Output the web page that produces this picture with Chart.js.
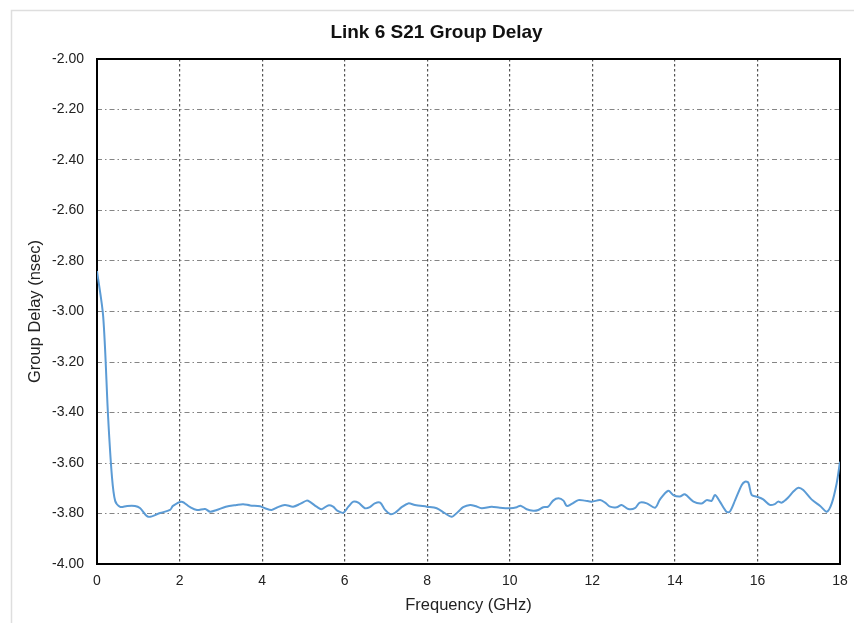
<!DOCTYPE html>
<html>
<head>
<meta charset="utf-8">
<title>Link 6 S21 Group Delay</title>
<script src="https://cdn.jsdelivr.net/npm/chart.js@4.4.1/dist/chart.umd.min.js"></script>
<style>
  html, body { margin: 0; padding: 0; background: #ffffff; }
  #wrap { width: 854px; height: 623px; }
</style>
</head>
<body>
<div id="wrap"><canvas id="chart" width="854" height="623"></canvas></div>
<script>
// Measured S21 group delay of link 6 (frequency in GHz, delay in ns)
const frequencyGHz = [
  0.00, 0.15, 0.27, 0.36, 0.44, 0.56, 0.73, 0.92, 1.04, 1.24,
  1.53, 1.77, 1.84, 2.05, 2.25, 2.42, 2.62, 2.74, 2.90, 3.12,
  3.38, 3.54, 3.71, 3.95, 4.07, 4.23, 4.35, 4.55, 4.75, 4.92,
  5.08, 5.16, 5.32, 5.44, 5.60, 5.72, 5.83, 5.97, 6.09, 6.21,
  6.33, 6.49, 6.61, 6.73, 6.86, 6.98, 7.10, 7.22, 7.38, 7.54,
  7.70, 7.99, 8.23, 8.43, 8.59, 8.75, 8.87, 9.04, 9.16, 9.32,
  9.56, 9.76, 10.01, 10.17, 10.26, 10.41, 10.57, 10.69, 10.81, 10.93,
  11.05, 11.18, 11.30, 11.38, 11.50, 11.66, 11.82, 11.98, 12.19, 12.31,
  12.43, 12.59, 12.71, 12.87, 13.03, 13.15, 13.32, 13.52, 13.64, 13.84,
  13.96, 14.12, 14.24, 14.45, 14.65, 14.77, 14.89, 14.97, 15.09, 15.25,
  15.33, 15.46, 15.62, 15.70, 15.78, 15.86, 15.98, 16.14, 16.30, 16.42,
  16.50, 16.59, 16.75, 16.87, 16.99, 17.11, 17.31, 17.52, 17.68, 17.80,
  17.92, 18.00
];

const groupDelayNs = [
  -2.840, -3.020, -3.420, -3.650, -3.750, -3.774, -3.770, -3.770, -3.778, -3.813,
  -3.798, -3.786, -3.770, -3.753, -3.774, -3.786, -3.782, -3.793, -3.786, -3.773,
  -3.766, -3.763, -3.768, -3.771, -3.779, -3.786, -3.777, -3.766, -3.773, -3.762,
  -3.749, -3.754, -3.773, -3.783, -3.768, -3.773, -3.790, -3.797, -3.773, -3.753,
  -3.757, -3.779, -3.775, -3.760, -3.757, -3.786, -3.802, -3.797, -3.775, -3.760,
  -3.766, -3.773, -3.779, -3.799, -3.813, -3.793, -3.775, -3.766, -3.770, -3.779,
  -3.773, -3.777, -3.779, -3.775, -3.769, -3.783, -3.789, -3.786, -3.775, -3.773,
  -3.749, -3.740, -3.749, -3.770, -3.762, -3.747, -3.749, -3.753, -3.747, -3.757,
  -3.773, -3.775, -3.766, -3.782, -3.779, -3.757, -3.760, -3.777, -3.744, -3.710,
  -3.727, -3.733, -3.724, -3.753, -3.760, -3.747, -3.750, -3.727, -3.753, -3.793,
  -3.793, -3.747, -3.687, -3.674, -3.678, -3.727, -3.733, -3.744, -3.766, -3.763,
  -3.753, -3.757, -3.736, -3.713, -3.698, -3.707, -3.744, -3.770, -3.793, -3.760,
  -3.680, -3.595
];

// Axis ranges and tick spacing
const frequencyRange = [0, 18];
const frequencyStep = 2;
const delayRange = [-4.0, -2.0];
const delayStep = 0.2;

const chartTitle = 'Link 6 S21 Group Delay';
const xAxisTitle = 'Frequency (GHz)';
const yAxisTitle = 'Group Delay (nsec)';

const FONT = '"Liberation Sans", Arial, Helvetica, sans-serif';

const points = frequencyGHz.map((f, i) => ({ x: f, y: groupDelayNs[i] }));

// Light outer chart frame plus solid plot-area border
const framePlugin = {
  id: 'frames',
  beforeDraw(chart) {
    const { ctx, width, height } = chart;
    ctx.save();
    ctx.fillStyle = '#ffffff';
    ctx.fillRect(0, 0, width, height);
    ctx.strokeStyle = '#dedede';
    ctx.lineWidth = 1.5;
    ctx.beginPath();
    ctx.moveTo(11.5, height);
    ctx.lineTo(11.5, 10.5);
    ctx.lineTo(width, 10.5);
    ctx.stroke();
    ctx.restore();
  },
  beforeDatasetsDraw(chart) {
    const { ctx, chartArea: a } = chart;
    ctx.save();
    ctx.strokeStyle = '#000000';
    ctx.lineWidth = 2;
    ctx.strokeRect(a.left, a.top, a.right - a.left, a.bottom - a.top);
    ctx.restore();
  }
};

new Chart(document.getElementById('chart'), {
  type: 'scatter',
  data: {
    datasets: [{
      label: 'S21 Group Delay',
      data: points,
      showLine: true,
      borderColor: '#5b9bd5',
      backgroundColor: '#5b9bd5',
      borderWidth: 2,
      pointRadius: 0,
      pointHoverRadius: 0,
      tension: 0.3
    }]
  },
  options: {
    responsive: false,
    animation: false,
    events: [],
    layout: { padding: { left: 33, right: 14, top: 0, bottom: 0 } },
    plugins: {
      legend: { display: false },
      tooltip: { enabled: false },
      title: {
        display: true,
        text: chartTitle,
        color: '#111111',
        font: { family: FONT, size: 19, weight: 'bold' },
        padding: { top: 21, bottom: 15.2 }
      }
    },
    scales: {
      x: {
        type: 'linear',
        min: frequencyRange[0],
        max: frequencyRange[1],
        afterFit(scale) {
          scale.height = 59;
          scale.paddingLeft = 0;
          scale.paddingRight = 0;
        },
        ticks: {
          stepSize: frequencyStep,
          color: '#222222',
          font: { family: FONT, size: 14 },
          padding: 9,
          maxRotation: 0
        },
        grid: {
          color: '#555555',
          lineWidth: 1.2,
          drawTicks: false
        },
        border: { display: false, dash: [2.5, 2.5] },
        title: {
          display: true,
          text: xAxisTitle,
          color: '#222222',
          font: { family: FONT, size: 16.5 },
          padding: { top: 0, bottom: 7.8 }
        }
      },
      y: {
        type: 'linear',
        min: delayRange[0],
        max: delayRange[1],
        afterFit(scale) { scale.width = 64; },
        ticks: {
          stepSize: delayStep,
          color: '#222222',
          font: { family: FONT, size: 14 },
          padding: 13,
          callback: (v) => Number(v).toFixed(2)
        },
        grid: {
          color: '#858585',
          lineWidth: 1,
          drawTicks: false
        },
        border: { display: false, dash: [5, 3, 1.5, 3] },
        title: {
          display: true,
          text: yAxisTitle,
          color: '#222222',
          font: { family: FONT, size: 16.5 },
          padding: { top: -7, bottom: 0 }
        }
      }
    }
  },
  plugins: [framePlugin]
});
</script>
</body>
</html>
